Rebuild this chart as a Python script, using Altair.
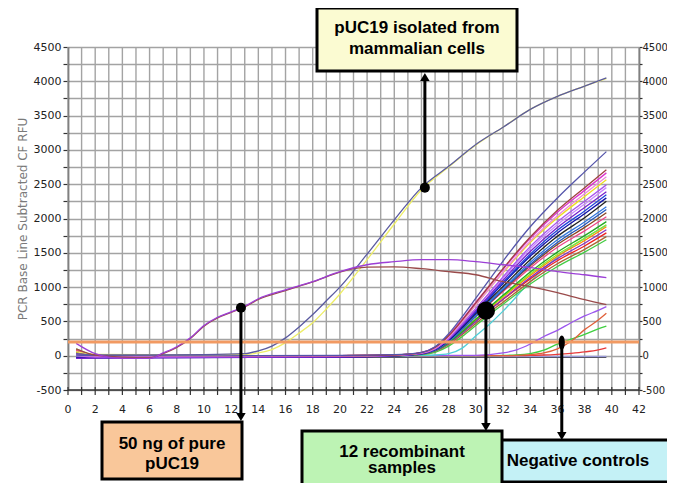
import altair as alt
import pandas as pd

# ---------------- data ----------------
# 50 ng of pure pUC19
cycles_p = [0.6, 2, 4, 6, 7, 8, 9, 10, 11, 12, 13, 14, 16, 18, 20, 22, 24, 26, 28, 30, 32, 34, 36, 38, 39.6]
pure_purple = [180, 30, -40, -40, 40, 130, 260, 440, 560, 640, 720, 830, 960, 1080, 1225, 1326, 1370, 1400, 1400, 1370, 1326, 1283, 1225, 1180, 1137]
pure_brown = [100, 10, -20, -30, 30, 120, 250, 430, 550, 630, 710, 820, 950, 1075, 1220, 1290, 1295, 1268, 1225, 1180, 1080, 1006, 918, 816, 743]

# pUC19 isolated from mammalian cells
cycles_m = [0.6, 2, 6, 10, 13, 14, 15, 16, 17, 18, 19, 20, 22, 24, 26, 28, 30, 32, 34, 36, 38, 39.6]
mam_slate = [30, 10, 10, 15, 30, 70, 140, 260, 420, 600, 800, 1000, 1480, 1980, 2450, 2760, 3080, 3330, 3590, 3780, 3930, 4050]
mam_yellow = [60, 20, 15, 15, 20, 40, 90, 190, 330, 480, 680, 900, 1400, 1920, 2420, 2750, 3070, 3330, 3590, 3780, 3930, 4040]

# 12 recombinant samples (replicates)
cycles_r = [0.6, 2, 20, 24, 26, 27, 28, 29, 30, 31, 32, 34, 36, 38, 39.6]
rec_01 = [10, 0, 5, 15, 50, 130, 320, 570, 840, 1110, 1380, 1880, 2300, 2680, 2975]
rec_02 = [60, 5, 0, 10, 45, 120, 290, 520, 770, 1020, 1270, 1730, 2120, 2450, 2710]
rec_03 = [30, 0, 0, 12, 50, 125, 300, 530, 780, 1020, 1260, 1710, 2090, 2410, 2665]
rec_04 = [0, -10, 0, 10, 40, 110, 270, 500, 740, 980, 1220, 1670, 2040, 2360, 2610]
rec_05 = [40, 0, 0, 10, 45, 115, 280, 500, 740, 980, 1210, 1650, 2010, 2320, 2565]
rec_06 = [0, -20, -10, 5, 35, 100, 250, 460, 690, 920, 1150, 1590, 1950, 2250, 2490]
rec_07 = [20, 0, 0, 8, 40, 105, 255, 470, 690, 910, 1130, 1560, 1910, 2210, 2450]
rec_08 = [-40, -30, -20, 0, 30, 95, 240, 440, 660, 880, 1100, 1520, 1870, 2160, 2390]
rec_09 = [0, -20, -10, 5, 35, 100, 245, 440, 650, 860, 1070, 1480, 1830, 2110, 2345]
rec_10 = [-30, -30, -20, 0, 30, 90, 230, 420, 630, 840, 1050, 1450, 1790, 2070, 2300]
rec_11 = [0, -20, -20, 0, 30, 90, 225, 410, 615, 815, 1010, 1400, 1740, 2010, 2250]
rec_12 = [10, -10, 0, 5, 30, 85, 215, 390, 590, 790, 980, 1360, 1690, 1950, 2170]
rec_13 = [0, -10, -10, 0, 25, 80, 205, 380, 575, 770, 960, 1330, 1650, 1910, 2130]
rec_14 = [30, 0, 0, 5, 30, 90, 220, 390, 580, 765, 950, 1310, 1620, 1870, 2085]
rec_15 = [80, 10, 0, 10, 35, 95, 225, 395, 580, 760, 935, 1280, 1580, 1820, 2025]
rec_16 = [50, 0, -10, 0, 25, 75, 190, 350, 530, 710, 880, 1220, 1510, 1750, 1955]
rec_17 = [100, 10, 0, 5, 25, 80, 195, 355, 530, 700, 865, 1190, 1475, 1710, 1910]
rec_18 = [60, 0, 0, 5, 30, 85, 200, 360, 530, 695, 855, 1170, 1450, 1680, 1880]
rec_19 = [-30, -30, -20, 0, 25, 70, 180, 330, 500, 665, 825, 1140, 1415, 1640, 1835]
rec_20 = [90, 10, 0, 5, 30, 80, 190, 340, 505, 665, 820, 1120, 1385, 1600, 1790]
rec_21 = [40, 0, -10, 0, 20, 65, 165, 310, 470, 630, 780, 1080, 1340, 1550, 1735]
rec_22 = [70, 0, 0, 0, 15, 50, 140, 280, 440, 600, 750, 1045, 1300, 1510, 1690]
rec_23 = [20, 0, 0, 0, 5, 10, 30, 110, 290, 460, 650, 1080, 1440, 1710, 1900]

# negative controls
cycles_n = [0.6, 2, 10, 20, 30, 32, 33, 34, 35, 36, 37, 38, 39, 39.6]
neg_purple = [0, -10, -10, 0, 5, 40, 85, 170, 280, 370, 480, 580, 660, 715]
neg_red = [30, 0, 0, 0, 0, 0, 5, 15, 40, 100, 210, 380, 520, 620]
neg_green = [-20, -10, 0, 0, 0, 5, 10, 30, 80, 170, 240, 310, 390, 430]
neg_redlow = [10, 0, 0, 0, 0, 0, 0, 5, 10, 20, 35, 55, 85, 115]
neg_dark = [-20, -25, -25, -25, -25, -25, -25, -25, -25, -25, -25, -25, -25, -25]
neg_lav = [-10, -15, -10, -10, -10, -10, -10, -10, -10, -10, -10, -10, -10, -10]

threshold = 200

# axis ticks
x_ticks = list(range(0, 43))
x_labels = list(range(0, 43, 2))
y_ticks = list(range(-500, 4501, 250))

series = [
    ("n_dark", "#555566", cycles_n, neg_dark),
    ("n_lav", "#9a9ad8", cycles_n, neg_lav),
    ("n_redlow", "#e83a3a", cycles_n, neg_redlow),
    ("n_green", "#3fcf3f", cycles_n, neg_green),
    ("n_red", "#e0603a", cycles_n, neg_red),
    ("n_purple", "#9b55ee", cycles_n, neg_purple),
    ("r23", "#4fd0d8", cycles_r, rec_23),
    ("r22", "#44cc44", cycles_r, rec_22),
    ("r21", "#aa6633", cycles_r, rec_21),
    ("r20", "#ee2222", cycles_r, rec_20),
    ("r19", "#8833bb", cycles_r, rec_19),
    ("r18", "#ff8800", cycles_r, rec_18),
    ("r17", "#88ee22", cycles_r, rec_17),
    ("r16", "#22aa22", cycles_r, rec_16),
    ("r15", "#ee4488", cycles_r, rec_15),
    ("r14", "#884422", cycles_r, rec_14),
    ("r13", "#2255bb", cycles_r, rec_13),
    ("r12", "#3377dd", cycles_r, rec_12),
    ("r11", "#222222", cycles_r, rec_11),
    ("r10", "#1111aa", cycles_r, rec_10),
    ("r09", "#2244dd", cycles_r, rec_09),
    ("r08", "#7722cc", cycles_r, rec_08),
    ("r07", "#cc88ff", cycles_r, rec_07),
    ("r06", "#aa55ee", cycles_r, rec_06),
    ("r05", "#eedd22", cycles_r, rec_05),
    ("r04", "#ee88dd", cycles_r, rec_04),
    ("r03", "#dd33cc", cycles_r, rec_03),
    ("r02", "#a04040", cycles_r, rec_02),
    ("r01", "#5555aa", cycles_r, rec_01),
    ("m_yellow", "#eeee66", cycles_m, mam_yellow),
    ("m_slate", "#5a5aa0", cycles_m, mam_slate),
    ("p_brown", "#9a4a4a", cycles_p, pure_brown),
    ("p_purple", "#9c3fd6", cycles_p, pure_purple),
]

rows = []
for order, (name, _, xs_, ys_) in enumerate(series):
    for c, v in zip(xs_, ys_):
        rows.append({"curve": name, "order": order, "cycle": c, "rfu": v})
df = pd.DataFrame(rows)

names = [s[0] for s in series]
colors = [s[1] for s in series]

# ---------------- layout ----------------
W, H = 571, 343
FONT = "DejaVu Sans"
GRID = "#a3a3a3"
AX = "#333333"
xs = alt.Scale(domain=[0, 42], nice=False, zero=False)
ys = alt.Scale(domain=[-500, 4500], nice=False, zero=False)

y_common = dict(
    values=y_ticks,
    labelExpr="datum.value % 500 === 0 ? '' + datum.value : ''",
    domainColor=AX, domainWidth=1.5, tickColor=AX, tickWidth=1.2,
    labelFont=FONT, labelColor="#222222",
    labelFlush=False, labelOverlap=False,
)
y_axis_left = alt.Axis(
    orient="left", grid=True, gridColor=GRID, gridWidth=1.4, tickSize=5, labelPadding=2,
    labelFontSize=11,
    title="PCR Base Line Subtracted CF RFU", titleFont=FONT, titleFontSize=12,
    titleFontWeight="normal", titleColor="#7a7a7a", titlePadding=4, **y_common,
)
y_axis_right = alt.Axis(orient="right", grid=False, title="", tickSize=3, labelPadding=0,
                        labelFontSize=10, **y_common)

# x axis drawn from the tick list through the x scale
xt = pd.DataFrame({"t": x_ticks})
xl = pd.DataFrame({"t": x_labels})
x_grid = alt.Chart(xt).mark_rule(color=GRID, strokeWidth=1.4).encode(
    x=alt.X("t:Q", scale=xs, axis=None), y=alt.value(0), y2=alt.value(H))
x_tickm = alt.Chart(xt).mark_rule(color=AX, strokeWidth=1.2).encode(
    x=alt.X("t:Q", scale=xs, axis=None), y=alt.value(H - 3), y2=alt.value(H + 5))
x_lab = alt.Chart(xl).mark_text(font=FONT, fontSize=11, color="#222222", baseline="middle").encode(
    x=alt.X("t:Q", scale=xs, axis=None), y=alt.value(H + 20), text=alt.Text("t:Q", format="d"))
x_dom = alt.Chart(pd.DataFrame({"a": [0], "b": [42]})).mark_rule(color=AX, strokeWidth=1.5).encode(
    x=alt.X("a:Q", scale=xs, axis=None), x2="b:Q", y=alt.value(H))

lines = alt.Chart(df).mark_line(strokeWidth=1.3, interpolate="monotone").encode(
    x=alt.X("cycle:Q", scale=xs, axis=None),
    y=alt.Y("rfu:Q", scale=ys, axis=y_axis_left),
    color=alt.Color("curve:N", scale=alt.Scale(domain=names, range=colors), legend=None),
    order=alt.Order("order:Q"),
)

thr_df = pd.DataFrame({"x0": [0], "x1": [42], "level": [threshold]})
thr = alt.Chart(thr_df).mark_rule(color="#f29a62", strokeWidth=3).encode(
    x=alt.X("x0:Q", scale=xs, axis=None),
    x2="x1:Q",
    y=alt.Y("level:Q", scale=ys, axis=y_axis_right),
)

one = pd.DataFrame({"k": [0]})


def box(x0, x1, y0, y1, fill):
    return alt.Chart(one).mark_rect(fill=fill, stroke="black", strokeWidth=3).encode(
        x=alt.value(x0), x2=alt.value(x1), y=alt.value(y0), y2=alt.value(y1))


def label(txt, x, y):
    return alt.Chart(one).mark_text(
        font="Liberation Sans", fontSize=17, fontWeight="bold", color="black",
        align="center", baseline="alphabetic").encode(
        x=alt.value(x), y=alt.value(y), text=alt.value(txt))


# annotation anchor points on the curves
ann = pd.DataFrame({
    "name": ["mam", "pure", "rec", "neg"],
    "cycle": [26.25, 12.72, 30.74, 36.32],
    "rfu": [2450, 700, 656, 190],
})


def arrow(name, y_end, y_head, shape, dot_size, dot_shape="circle"):
    d = ann[ann.name == name]
    rule = alt.Chart(d).mark_rule(color="black", strokeWidth=3).encode(
        x=alt.X("cycle:Q", scale=xs, axis=None),
        y=alt.Y("rfu:Q", scale=ys, axis=None),
        y2=alt.value(y_end))
    head = alt.Chart(d).mark_point(shape=shape, filled=True, color="black", size=90, opacity=1).encode(
        x=alt.X("cycle:Q", scale=xs, axis=None), y=alt.value(y_head))
    dot = alt.Chart(d).mark_point(shape=dot_shape, filled=True, color="black", size=dot_size, opacity=1).encode(
        x=alt.X("cycle:Q", scale=xs, axis=None),
        y=alt.Y("rfu:Q", scale=ys, axis=None))
    return [rule, head, dot]


ellipse = "M-0.43,0 A0.43,1 0 1,0 0.43,0 A0.43,1 0 1,0 -0.43,0 Z"

layers = [x_grid, lines, thr, x_dom, x_tickm, x_lab]
layers += arrow("mam", 30, 30, "triangle-up", 100)
layers += arrow("pure", 370, 370, "triangle-down", 100)
layers += arrow("rec", 380, 380, "triangle-down", 330)
layers += arrow("neg", 389, 389, "triangle-down", 200, ellipse)
layers += [
    box(249, 449, -39, 24, "#fbfbd2"),
    label("pUC19 isolated from", 349, -14),
    label("mammalian cells", 349, 7),
    box(34, 174, 375, 432, "#f9c79a"),
    label("50 ng of pure", 104, 402),
    label("pUC19", 104, 422),
    box(419, 604, 393, 435, "#c4f1f6"),
    label("Negative controls", 510, 419),
    box(234, 434, 384, 452, "#bdf3b4"),
    label("12 recombinant", 334, 410),
    label("samples", 334, 426),
]

chart = alt.layer(*layers).resolve_axis(y="independent").properties(
    width=W, height=H,
    background="white",
    autosize=alt.AutoSizeParams(type="none"),
    padding={"left": 60, "top": 39, "right": 28, "bottom": 93},
).configure_view(stroke=None)

chart.save("out.html", embed_options={"renderer": "svg", "actions": False})
